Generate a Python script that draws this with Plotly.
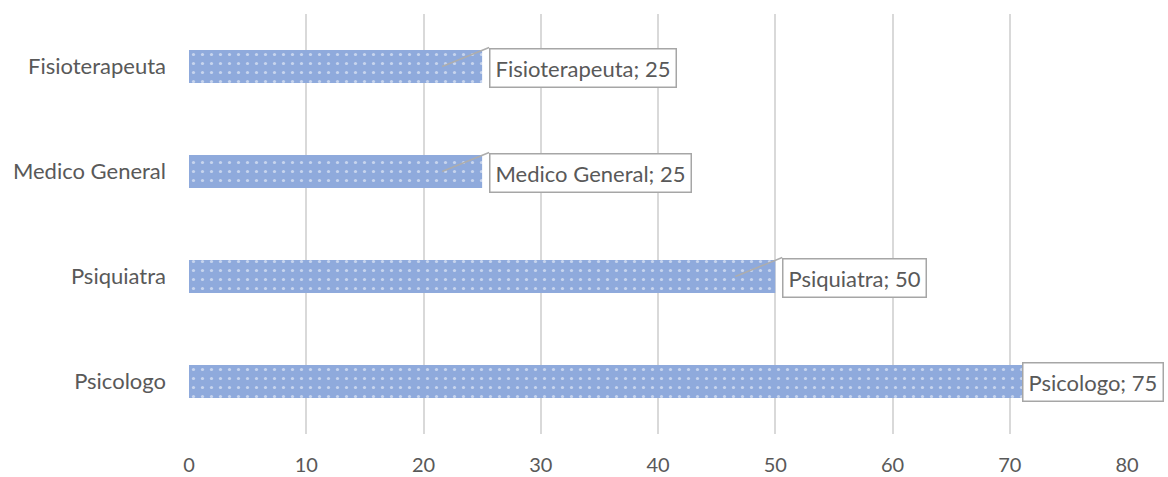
import plotly.graph_objects as go

categories = ["Psicologo", "Psiquiatra", "Medico General", "Fisioterapeuta"]
values = [75, 50, 25, 25]
x_ticks = [0, 10, 20, 30, 40, 50, 60, 70, 80]

TEXT = "#595959"
FONT = "Lato"
BAR = "#8FAADC"
FS = 22

fig = go.Figure()
fig.add_trace(go.Bar(
    y=categories, x=values, orientation="h",
    marker=dict(color=BAR, line=dict(width=0),
                pattern=dict(shape=".", fgcolor="white", bgcolor=BAR,
                             size=9, solidity=0.1)),
    hoverinfo="skip",
))

for cat, val in zip(categories, values):
    txt = f"{cat}; {val}"
    if val >= 70:
        fig.add_annotation(x=val, y=cat, text=txt, showarrow=False,
                           xanchor="left", xshift=-46, yshift=0,
                           bgcolor="white", bordercolor="#A6A6A6", borderwidth=1.5,
                           borderpad=5, font=dict(family=FONT, size=FS, color=TEXT))
    else:
        fig.add_annotation(x=val, y=cat, text=txt, showarrow=True,
                           arrowhead=0, arrowwidth=1.5, arrowcolor="#ADADAD",
                           ax=47, ay=-19, xshift=-40, xanchor="left", yanchor="top",
                           bgcolor="white", bordercolor="#A6A6A6", borderwidth=1.5,
                           borderpad=5, font=dict(family=FONT, size=FS, color=TEXT))

fig.update_layout(
    width=1168, height=477,
    margin=dict(l=189, r=41, t=14, b=43, autoexpand=False),
    paper_bgcolor="white", plot_bgcolor="white",
    bargap=0.685, showlegend=False,
    font=dict(family=FONT, size=FS, color=TEXT),
)
fig.update_xaxes(range=[0, 80], tickvals=x_ticks, showgrid=True, gridcolor="#D9D9D9",
                 gridwidth=2, zeroline=False, showline=False, ticks="", automargin=False,
                 ticklabelstandoff=17, tickfont=dict(family=FONT, size=20, color=TEXT))
fig.update_yaxes(showgrid=False, zeroline=False, showline=False, ticks="", automargin=False,
                 ticklabelstandoff=22, tickfont=dict(family=FONT, size=FS, color=TEXT))

fig.write_html("out.html", config={"displayModeBar": False},
               post_script="document.body.style.margin='0';document.body.style.overflow='hidden';")
